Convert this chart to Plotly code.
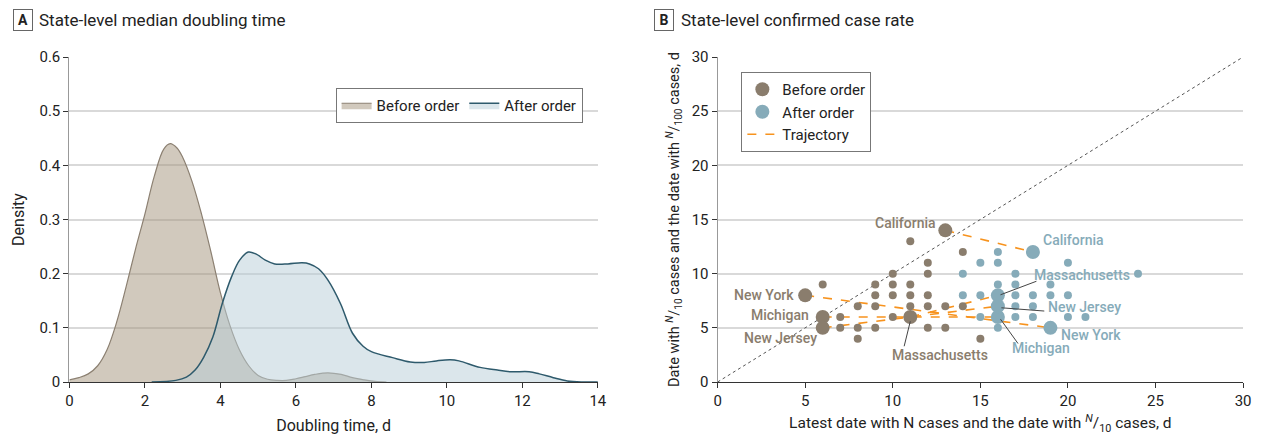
import plotly.graph_objects as go

# ---------------- Data ----------------
# Panel A: density curves
before_x = [0, 0.25, 0.5, 0.75, 1.0, 1.25, 1.5, 1.75, 2.0, 2.25, 2.5, 2.67, 2.85, 3.0, 3.25, 3.5,
            3.75, 4.0, 4.25, 4.5, 4.75, 5.0, 5.25, 5.5, 5.75, 6.0, 6.25, 6.5, 6.85, 7.2, 7.5, 7.8, 8.1, 8.4]
before_y = [0.004, 0.008, 0.015, 0.03, 0.06, 0.11, 0.175, 0.245, 0.31, 0.38, 0.43, 0.44, 0.432, 0.415,
            0.37, 0.31, 0.24, 0.165, 0.105, 0.06, 0.03, 0.012, 0.005, 0.003, 0.003, 0.006, 0.01, 0.014,
            0.017, 0.014, 0.008, 0.004, 0.001, 0.0]
after_x = [2.18, 2.82, 3.1, 3.33, 3.56, 3.8, 4.05, 4.3, 4.51, 4.74, 4.95, 5.19, 5.44, 5.79, 6.16, 6.36,
           6.6, 6.85, 7.18, 7.5, 7.78, 8.0, 8.56, 9.03, 9.4, 9.72, 10.09, 10.32, 10.88, 11.34, 11.7,
           12.18, 12.45, 12.82, 13.19, 13.56, 14.0]
after_y = [0.0, 0.003, 0.009, 0.022, 0.046, 0.083, 0.145, 0.195, 0.225, 0.24, 0.236, 0.225, 0.218,
           0.218, 0.22, 0.218, 0.209, 0.188, 0.145, 0.09, 0.066, 0.056, 0.045, 0.037, 0.036, 0.039,
           0.041, 0.039, 0.027, 0.022, 0.019, 0.019, 0.015, 0.008, 0.002, 0.0, 0.0]

# Panel B: small dots
before_pts_x = [6, 7, 7, 8, 8, 8, 9, 9, 9, 9, 10, 10, 10, 10, 11, 11, 11, 11, 12, 12, 12, 12, 12,
                13, 13, 14, 14, 15]
before_pts_y = [9, 6, 5, 7, 5, 4, 9, 8, 7, 5, 10, 9, 8, 6, 13, 9, 8, 7, 11, 10, 8, 7, 5,
                7, 5, 12, 7, 4]
after_pts_x = [14, 14, 15, 15, 15, 16, 16, 16, 16, 17, 17, 17, 17, 17, 18, 18, 18, 19, 19,
               20, 20, 20, 21, 24]
after_pts_y = [10, 8, 11, 8, 6, 12, 11, 9, 5, 10, 9, 8, 7, 6, 8, 7, 6, 9, 8,
               11, 8, 6, 6, 10]

# Highlighted states
states = ["California", "New York", "Michigan", "New Jersey", "Massachusetts"]
state_before_x = [13, 5, 6, 6, 11]
state_before_y = [14, 8, 6, 5, 6]
state_after_x = [18, 19, 16, 16, 16]
state_after_y = [12, 5, 6, 7, 8]

# ---------------- Styles ----------------
FONT = "Roboto, Liberation Sans, sans-serif"
BROWN = "#8a7d6d"
BLUE = "#86abb9"
ORANGE = "#f7931e"
BEF_FILL = "rgba(163,147,123,0.5)"
BEF_LINE = "#8c8072"
AFT_FILL = "rgba(183,205,215,0.5)"
AFT_LINE = "#2e5a6c"
GRID = "#d9d9d9"
TXT = "#222222"

# page offset (browser body margin) compensation
OFF = 8
W, H = 1262 - OFF, 443 - OFF
PT, PB = 57 - OFF, 382 - OFF


def px(p):
    return (p - OFF) / W


def py(p):
    return (PB - (p - OFF)) / (PB - PT)


fig = go.Figure()

# ---- Panel A ----
fig.add_trace(go.Scatter(x=before_x, y=before_y, mode="lines", fill="tozeroy",
                         fillcolor=BEF_FILL, line=dict(color=BEF_LINE, width=1.2, shape="spline"),
                         name="Before order", legend="legend", xaxis="x", yaxis="y"))
fig.add_trace(go.Scatter(x=after_x, y=after_y, mode="lines", fill="tozeroy",
                         fillcolor=AFT_FILL, line=dict(color=AFT_LINE, width=1.5, shape="spline"),
                         name="After order", legend="legend", xaxis="x", yaxis="y"))

# ---- Panel B ----
fig.add_trace(go.Scatter(x=[0, 30], y=[0, 30], mode="lines",
                         line=dict(color="#555555", width=1, dash="dot"),
                         showlegend=False, xaxis="x2", yaxis="y2", hoverinfo="skip"))
for i in range(len(states)):
    fig.add_trace(go.Scatter(x=[state_before_x[i], state_after_x[i]],
                             y=[state_before_y[i], state_after_y[i]], mode="lines",
                             line=dict(color=ORANGE, width=1.6, dash="dash"),
                             name="Trajectory", legend="legend2", showlegend=(i == 0),
                             legendrank=3, xaxis="x2", yaxis="y2"))
fig.add_trace(go.Scatter(x=before_pts_x, y=before_pts_y, mode="markers",
                         marker=dict(color=BROWN, size=8), showlegend=False,
                         xaxis="x2", yaxis="y2"))
fig.add_trace(go.Scatter(x=after_pts_x, y=after_pts_y, mode="markers",
                         marker=dict(color=BLUE, size=8), showlegend=False,
                         xaxis="x2", yaxis="y2"))
fig.add_trace(go.Scatter(x=state_before_x, y=state_before_y, mode="markers",
                         marker=dict(color=BROWN, size=14), name="Before order",
                         legend="legend2", legendrank=1,
                         xaxis="x2", yaxis="y2", text=states))
fig.add_trace(go.Scatter(x=state_after_x, y=state_after_y, mode="markers",
                         marker=dict(color=BLUE, size=14), name="After order",
                         legend="legend2", legendrank=2,
                         xaxis="x2", yaxis="y2", text=states))

# connector lines for labels (label leader lines)
leaders = [  # (x0, y0, x1, y1)
    (11.0, 5.6, 10.65, 3.3),
    (16.15, 8.05, 18.2, 9.3),
    (16.2, 6.85, 18.65, 6.55),
    (16.15, 5.8, 17.15, 3.55),
]
for x0, y0, x1, y1 in leaders:
    fig.add_shape(type="line", x0=x0, y0=y0, x1=x1, y1=y1, xref="x2", yref="y2",
                  line=dict(color="#444444", width=1))

# labels
lab_font = dict(family=FONT, size=14, weight=500)
before_labels = [  # text, x, y, xanchor
    ("California", 12.6, 14.7, "right"),
    ("New York", 4.45, 8.05, "right"),
    ("Michigan", 5.35, 6.2, "right"),
    ("New Jersey", 5.8, 4.05, "right"),
    ("Massachusetts", 12.7, 2.5, "center"),
]
after_labels = [
    ("California", 18.45, 13.1, "left"),
    ("Massachusetts", 17.95, 9.9, "left"),
    ("New Jersey", 18.75, 6.9, "left"),
    ("New York", 19.5, 4.3, "left"),
    ("Michigan", 18.45, 3.1, "center"),
]
for t, x, y, xa in before_labels:
    fig.add_annotation(x=x, y=y, xref="x2", yref="y2", text=t, showarrow=False, xanchor=xa,
                       font=dict(color=BROWN, **lab_font))
for t, x, y, xa in after_labels:
    fig.add_annotation(x=x, y=y, xref="x2", yref="y2", text=t, showarrow=False, xanchor=xa,
                       font=dict(color=BLUE, **lab_font))

# Panel titles
for letter, bx, tx, title in [("A", 19, 33, "State-level median doubling time"),
                              ("B", 667, 682, "State-level confirmed case rate")]:
    fig.add_annotation(x=px(bx), y=py(20), xref="paper", yref="paper", text="<b>" + letter + "</b>",
                       showarrow=False, xanchor="center", yanchor="middle",
                       font=dict(family=FONT, size=14, color=TXT),
                       bordercolor="#666666", borderwidth=1, borderpad=3, width=12, height=14)
    fig.add_annotation(x=px(tx), y=py(20), xref="paper", yref="paper", text=title,
                       showarrow=False, xanchor="left", yanchor="middle",
                       font=dict(family=FONT, size=17, color=TXT))

tick_font = dict(family=FONT, size=15, color=TXT)
title_font = dict(family=FONT, size=16, color=TXT)

fig.update_layout(
    width=W, height=H,
    margin=dict(l=0, r=0, t=PT, b=H - PB),
    paper_bgcolor="white", plot_bgcolor="white",
    font=dict(family=FONT, color=TXT),
    xaxis=dict(domain=[px(66), px(600)], range=[0, 14], tickvals=[0, 2, 4, 6, 8, 10, 12, 14],
               showgrid=False, zeroline=False, ticks="outside", ticklen=5, tickcolor="#333333",
               showline=True, linecolor="#333333", linewidth=1.2, tickfont=tick_font,
               title=dict(text="Doubling time, d", font=title_font, standoff=10),
               anchor="y"),
    yaxis=dict(domain=[0, 1], range=[0, 0.6], tickvals=[0, 0.1, 0.2, 0.3, 0.4, 0.5, 0.6],
               ticktext=["0", "0.1", "0.2", "0.3", "0.4", "0.5", "0.6"],
               showgrid=True, gridcolor=GRID, gridwidth=2, zeroline=False,
               ticks="outside", ticklen=5, tickcolor="#333333",
               showline=True, linecolor="#999999", linewidth=1.2, tickfont=tick_font,
               title=dict(text="Density", font=title_font, standoff=10),
               anchor="x"),
    xaxis2=dict(domain=[px(721), px(1252)], range=[0, 30], tickvals=[0, 5, 10, 15, 20, 25, 30],
                showgrid=False, zeroline=False, ticks="outside", ticklen=5, tickcolor="#333333",
                showline=True, linecolor="#333333", linewidth=1.2, tickfont=tick_font,
                title=dict(text="Latest date with N cases and the date with "
                                "<sup><i>N</i></sup>/<sub>10</sub> cases, d",
                           font=dict(family=FONT, size=15.5, color=TXT), standoff=8),
                anchor="y2"),
    yaxis2=dict(domain=[0, 1], range=[0, 30], tickvals=[0, 5, 10, 15, 20, 25, 30],
                showgrid=True, gridcolor=GRID, gridwidth=2, zeroline=False,
                ticks="outside", ticklen=5, tickcolor="#333333",
                showline=True, linecolor="#999999", linewidth=1.2, tickfont=tick_font,
                title=dict(text="Date with <sup><i>N</i></sup>/<sub>10</sub> cases and the date with "
                                "<sup><i>N</i></sup>/<sub>100</sub> cases, d",
                           font=dict(family=FONT, size=14.5, color=TXT), standoff=8),
                anchor="x2"),
    legend=dict(x=px(335), y=py(88), xanchor="left", yanchor="top", orientation="h",
                bordercolor="#777777", borderwidth=1, bgcolor="white",
                font=dict(family=FONT, size=15, color=TXT), itemwidth=30),
    legend2=dict(x=px(745), y=py(72), xanchor="left", yanchor="top", orientation="v",
                 bordercolor="#777777", borderwidth=1, bgcolor="white",
                 font=dict(family=FONT, size=15, color=TXT), itemwidth=30, tracegroupgap=0),
    showlegend=True,
)

fig.write_html("out.html")
